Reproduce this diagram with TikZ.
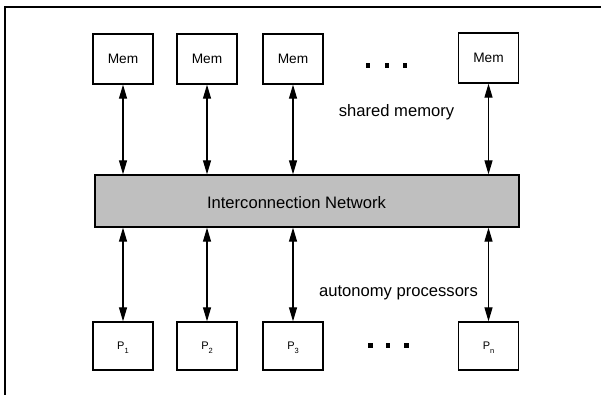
\documentclass[tikz,border=0pt]{standalone}
\usepackage{fontspec}
\setmainfont{Liberation Sans}
\usetikzlibrary{arrows.meta}
\begin{document}
\begin{tikzpicture}[x=1pt,y=-1pt,
  membox/.style={draw,line width=1.3pt,minimum width=60pt,minimum height=50pt,inner sep=0pt,font=\fontsize{13.7}{14}\selectfont},
  procbox/.style={draw,line width=1.3pt,minimum width=60pt,minimum height=48pt,inner sep=0pt,text depth=0pt,font=\fontsize{11}{12}\selectfont},
  netbox/.style={draw,line width=1.3pt,fill=black!25,minimum width=424pt,minimum height=52pt,inner sep=0pt,font=\fontsize{16.6}{18}\selectfont},
  conn/.style={line width=1.2pt,{Triangle[length=14pt,width=8pt]}-{Triangle[length=14pt,width=8pt]}},
  lbl/.style={font=\fontsize{16.6}{18}\selectfont,anchor=base,inner sep=0pt},
  dotsq/.style={fill=black,minimum size=4.5pt,inner sep=0pt}]
\useasboundingbox (0,0) rectangle (601,395);
% frame (right and bottom lie beyond the picture)
\draw[line width=1.6pt] (5,395) -- (5,7) -- (601,7);
% memories
\node[membox] (m1) at (123,59) {Mem};
\node[membox] (m2) at (207,59) {Mem};
\node[membox] (m3) at (293,59) {Mem};
\node[membox] (m4) at (488.5,58) {Mem};
% network
\node[netbox] (net) at (307,201) {};
\node[font=\fontsize{16.6}{18}\selectfont,anchor=base,inner sep=0pt] (nettext) at (296.5,208.3) {Interconnection Network};
% processors
\newcommand{\psub}[1]{P\raisebox{-4pt}{\fontsize{7.5}{8}\selectfont #1}}
\node[procbox] (p1) at (123,346) {\psub{1}};
\node[procbox] (p2) at (207,346) {\psub{2}};
\node[procbox] (p3) at (293,346) {\psub{3}};
\node[procbox] (p4) at (488.5,346) {\psub{n}};
% connectors
\foreach \i in {1,2,3,4}{
  \draw[conn] (m\i.south) -- (net.north -| m\i.south);
  \draw[conn] (net.south -| p\i.north) -- (p\i.north);
}
% ellipses
\node[dotsq] (d1) at (368,65.5) {};
\node[dotsq] (d2) at (387,65.5) {};
\node[dotsq] (d3) at (405,65.5) {};
\node[dotsq] (e1) at (370.5,345.7) {};
\node[dotsq] (e2) at (388,345.7) {};
\node[dotsq] (e3) at (406.5,345.7) {};
% labels
\node[lbl] (shm) at (396.5,116.5) {shared memory};
\node[lbl] (aut) at (398.5,296) {autonomy processors};
\end{tikzpicture}
\end{document}
